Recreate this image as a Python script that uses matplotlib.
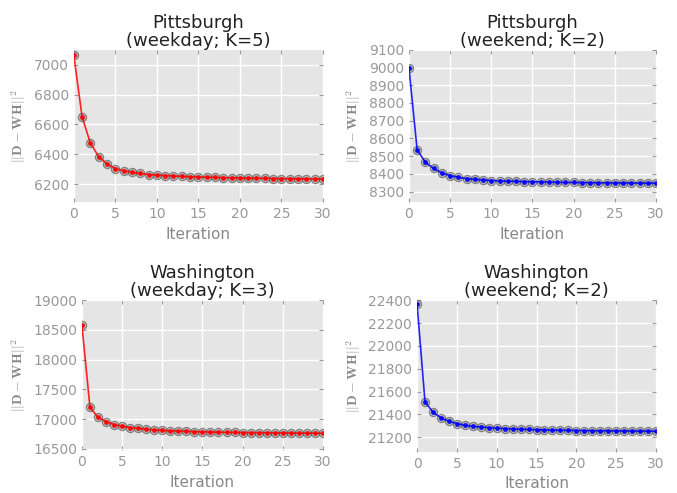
import matplotlib
matplotlib.use('Agg')
import matplotlib.pyplot as plt
import numpy as np

plt.style.use('ggplot')
plt.rcParams['mathtext.fontset'] = 'cm'

iters = list(range(31))

pit_weekday = [7065, 6650, 6475, 6385, 6335, 6305, 6290, 6280, 6272, 6265, 6260,
               6258, 6255, 6252, 6250, 6248, 6247, 6245, 6244, 6243, 6242,
               6241, 6240, 6239, 6238, 6238, 6237, 6236, 6236, 6235, 6235]
pit_weekend = [9000, 8535, 8465, 8430, 8405, 8390, 8380, 8373, 8368, 8365, 8362,
               8360, 8358, 8357, 8356, 8355, 8354, 8353, 8352, 8351, 8351,
               8350, 8350, 8349, 8349, 8348, 8348, 8348, 8347, 8347, 8347]
was_weekday = [18580, 17200, 17030, 16960, 16910, 16880, 16860, 16845, 16830, 16820, 16810,
               16805, 16800, 16795, 16790, 16787, 16784, 16781, 16779, 16777, 16775,
               16773, 16772, 16770, 16769, 16768, 16767, 16766, 16765, 16764, 16763]
was_weekend = [22370, 21510, 21420, 21370, 21340, 21320, 21305, 21295, 21290, 21285, 21280,
               21276, 21273, 21270, 21268, 21266, 21264, 21262, 21261, 21260, 21259,
               21258, 21257, 21256, 21256, 21255, 21255, 21254, 21254, 21253, 21253]

titles = ['Pittsburgh\n(weekday; K=5)', 'Pittsburgh\n(weekend; K=2)',
          'Washington\n(weekday; K=3)', 'Washington\n(weekend; K=2)']
series = [pit_weekday, pit_weekend, was_weekday, was_weekend]
colors = ['red', 'blue', 'red', 'blue']
ylims = [(6080, 7100), (8240, 9100), (16480, 19000), (21070, 22400)]
yticks = [np.arange(6200, 7001, 200), np.arange(8300, 9101, 100),
          np.arange(16500, 19001, 500), np.arange(21200, 22401, 200)]
positions = [[0.109, 0.590, 0.368, 0.309], [0.604, 0.590, 0.365, 0.309],
             [0.121, 0.087, 0.356, 0.304], [0.616, 0.083, 0.353, 0.308]]

fig = plt.figure(figsize=(6.77, 4.93), dpi=100)
fig.patch.set_facecolor('white')

for i in range(4):
    ax = fig.add_axes(positions[i])
    ax.set_facecolor('#E5E5E5')
    ax.plot(iters, series[i], 'o', ms=6, mfc='#777777', mec='#222222', mew=0.8, alpha=0.45)
    ax.plot(iters, series[i], '-o', color=colors[i], ms=2.5, lw=1.2, alpha=0.85)
    ax.set_xlim(0, 30)
    ax.set_ylim(*ylims[i])
    ax.set_xticks(range(0, 31, 5))
    ax.set_yticks(yticks[i])
    ax.grid(True, color='white', lw=1)
    ax.tick_params(colors='#999999', labelsize=10, length=3, direction='in')
    ax.tick_params(axis='both', which='both', top=True, right=True)
    for s in ax.spines.values():
        s.set_visible(False)
    ax.set_title(titles[i], fontsize=13, color='#222222', linespacing=1.0, pad=3)
    ax.set_xlabel('Iteration', fontsize=11, color='#888888', labelpad=4)
    ax.set_ylabel(r'$||\mathbf{D}-\mathbf{WH}||^2$', fontsize=10, color='#888888')

fig.savefig('out.png', dpi=100, facecolor='white')
